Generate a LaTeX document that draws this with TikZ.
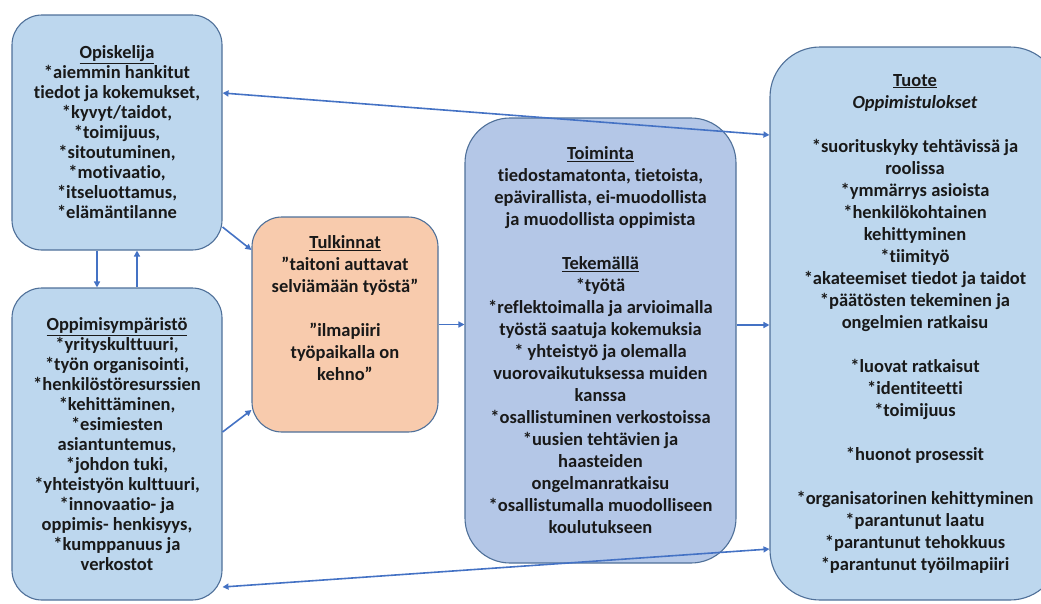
\documentclass[tikz,border=0pt]{standalone}
\usepackage{fontspec}
\setmainfont{Carlito}[Ligatures=NoCommon]
\usetikzlibrary{arrows.meta}
\definecolor{boxblue}{HTML}{BDD7EE}
\definecolor{actblue}{HTML}{B4C7E7}
\definecolor{interorange}{HTML}{F8CBAD}
\definecolor{boxedge}{HTML}{4F7099}
\definecolor{arrowblue}{HTML}{4472C4}
\begin{document}
\begin{tikzpicture}[x=1pt, y=-1pt,
  box/.style={draw=boxedge, line width=1.1pt, fill=boxblue, rounded corners=30pt, align=center, inner sep=0pt, text=black!90, font=\bfseries\fontsize{18.5}{20}\selectfont},
  widebox/.style={box, font=\bfseries\fontsize{18.5}{22}\selectfont},
  link/.style={draw=arrowblue, line width=1.6pt, -{Triangle[length=6pt,width=6pt]}},
  both/.style={link, {Triangle[length=6pt,width=6pt]}-{Triangle[length=6pt,width=6pt]}}]
\useasboundingbox (0,0) rectangle (1041,603);
\node[box, minimum width=210pt, minimum height=235pt] (opisk) at (117,132.5) {\underline{Opiskelija}\\{}*aiemmin hankitut\\tiedot ja kokemukset,\\{}*kyvyt/taidot,\\{}*toimijuus,\\{}*sitoutuminen,\\{}*motivaatio,\\{}*itseluottamus,\\{}*elämäntilanne};
\node[box, minimum width=210pt, minimum height=312pt] (ympar) at (117,444) {\underline{Oppimisympäristö}\\{}*yrityskulttuuri,\\{}*työn organisointi,\\{}*henkilöstöresurssien\\{}*kehittäminen,\\{}*esimiesten\\asiantuntemus,\\{}*johdon tuki,\\{}*yhteistyön kulttuuri,\\{}*innovaatio- ja\\oppimis- henkisyys,\\{}*kumppanuus ja\\verkostot};
\node[widebox, fill=interorange, minimum width=186pt, minimum height=215pt] (tulk) at (345,324.5) {\underline{Tulkinnat}\\”taitoni auttavat\\selviämään työstä”\\[22pt]”ilmapiiri\\työpaikalla on\\kehno”\\[10pt]};
\node[widebox, fill=actblue, rounded corners=45pt, minimum width=271pt, minimum height=445pt] (toim) at (600.5,340.5) {\underline{Toiminta}\\tiedostamatonta, tietoista,\\epävirallista, ei-muodollista\\ja muodollista oppimista\\[22pt]\underline{Tekemällä}\\{}*työtä\\{}*reflektoimalla ja arvioimalla\\työstä saatuja kokemuksia\\{}* yhteistyö ja olemalla\\vuorovaikutuksessa muiden\\kanssa\\{}*osallistuminen verkostoissa\\{}*uusien tehtävien ja\\haasteiden\\ongelmanratkaisu\\{}*osallistumalla muodolliseen\\koulutukseen};
\node[widebox, rounded corners=50pt, minimum width=290pt, minimum height=553pt] (tuote) at (915,323.5) {\underline{Tuote}\\\textit{Oppimistulokset}\\[22pt]{}*suorituskyky tehtävissä ja\\roolissa\\{}*ymmärrys asioista\\{}*henkilökohtainen\\kehittyminen\\{}*tiimityö\\{}*akateemiset tiedot ja taidot\\{}*päätösten tekeminen ja\\ongelmien ratkaisu\\[22pt]{}*luovat ratkaisut\\{}*identiteetti\\{}*toimijuus\\[22pt]{}*huonot prosessit\\[22pt]{}*organisatorinen kehittyminen\\{}*parantunut laatu\\{}*parantunut tehokkuus\\{}*parantunut työilmapiiri};
\draw[link] ([xshift=-20pt]opisk.south) -- ([xshift=-20pt]ympar.north);
\draw[link] ([xshift=20pt]ympar.north) -- ([xshift=20pt]opisk.south);
\draw[link] ([yshift=-94.5pt]opisk.east) -- ([yshift=74.5pt]tulk.west);
\draw[link] ([yshift=12pt]ympar.east) -- ([yshift=-85.5pt]tulk.west);
\draw[link] (tulk.east) -- (tulk.east -| toim.west);
\draw[link] ([yshift=15.5pt]toim.east) -- ([yshift=15.5pt]toim.east -| tuote.west);
\draw[both] ([yshift=39.5pt]opisk.east) -- ([yshift=188.5pt]tuote.west);
\draw[both] ([yshift=-143pt]ympar.east) -- ([yshift=-225.5pt]tuote.west);
\end{tikzpicture}
\end{document}
